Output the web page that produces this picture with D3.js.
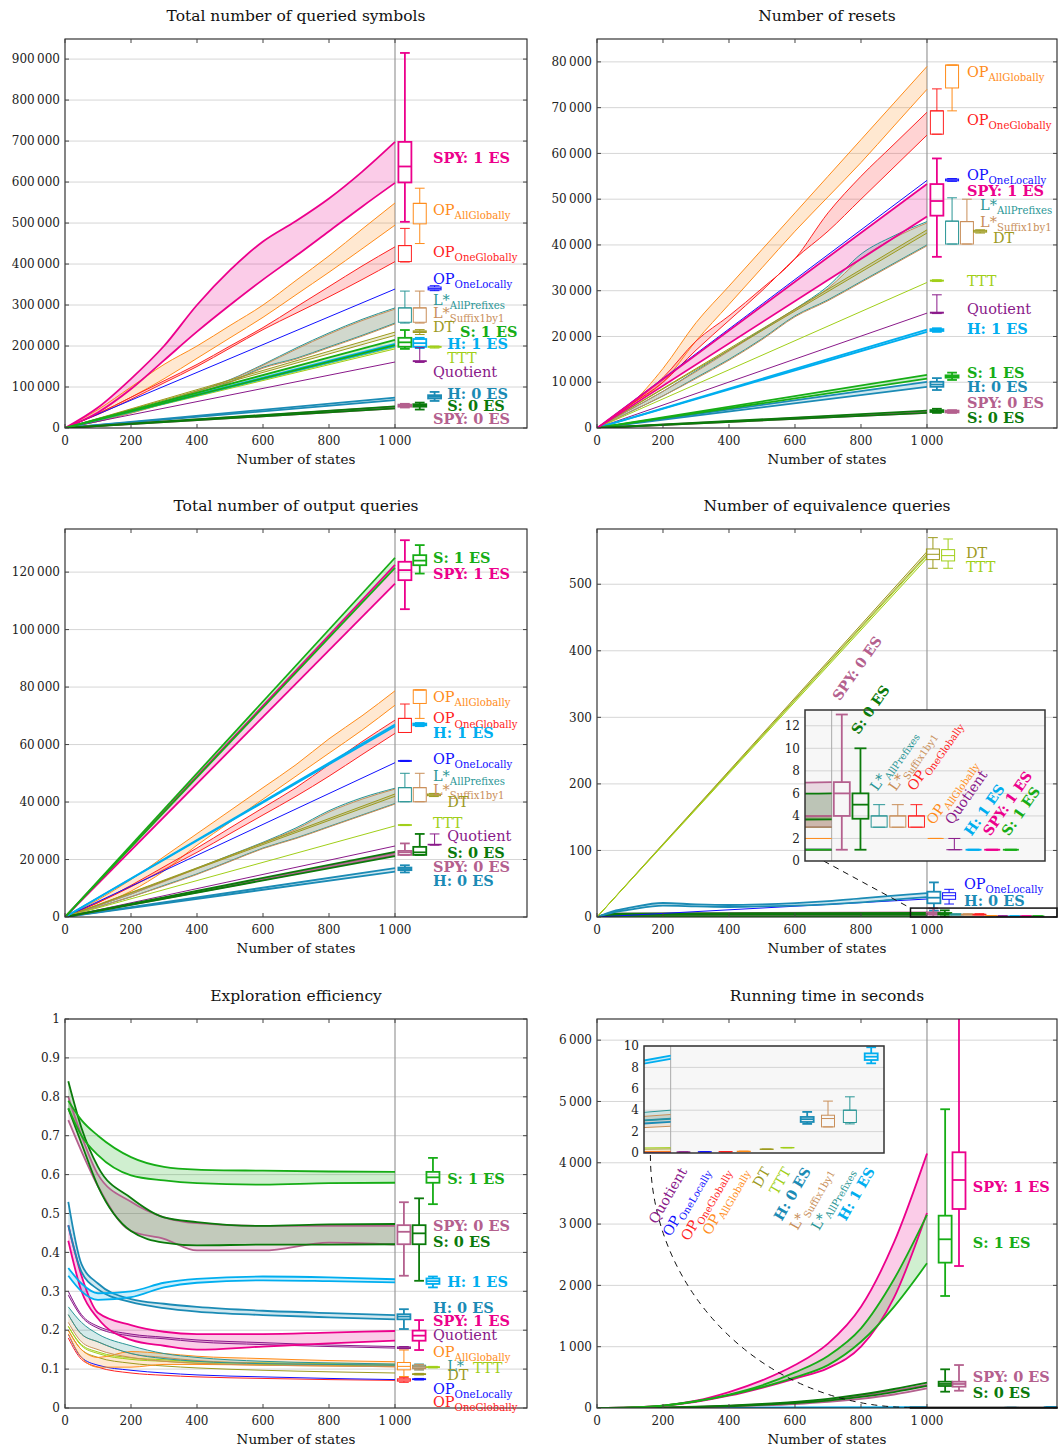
<!DOCTYPE html>
<html>
<head>
<meta charset="utf-8">
<script src="https://cdn.jsdelivr.net/npm/d3@7"></script>
<style>
  body { margin: 0; background: #fff; }
  svg text { font-family: 'DejaVu Serif', serif; }
</style>
</head>
<body>
<svg id="chart" width="1059" height="1450"></svg>
<script>
'use strict'

// ---- x grids (number of states) ----
const gridFull = [0, 100, 200, 300, 400, 500, 600, 700, 800, 900, 1000];
const gridEnds = [0, 1000];
const gridFlat = [0, 50, 1000];
const gridEq = [0, 50, 100, 200, 300, 400, 500, 600, 700, 800, 900, 1000];
const gridEff = [10, 50, 100, 200, 300, 400, 600, 800, 1000];

const xTicks = [0, 200, 400, 600, 800, 1000];

// ---- Total number of queried symbols ----
const symbolsTicks = [0, 100e3, 200e3, 300e3, 400e3, 500e3, 600e3, 700e3, 800e3, 900e3];
const symbolsBands = [
  ['opAll', gridFull, [0, 35e3, 75e3, 120e3, 170e3, 220e3, 270e3, 325e3, 380e3, 437e3, 495e3], [0, 45e3, 100e3, 155e3, 200e3, 250e3, 300e3, 360e3, 420e3, 485e3, 549e3]],
  ['opOneG', gridFull, [0, 33e3, 70e3, 110e3, 150e3, 195e3, 240e3, 280e3, 320e3, 362e3, 406e3], [0, 35e3, 75e3, 115e3, 155e3, 200e3, 245e3, 295e3, 345e3, 395e3, 442e3]],
  ['opOneL', gridEnds, [0, 339e3], [0, 339e3]],
  ['lAP', gridFull, [0, 16e3, 37e3, 60e3, 85e3, 112e3, 148e3, 170e3, 198e3, 226e3, 256e3], [0, 18e3, 40e3, 65e3, 90e3, 118e3, 155e3, 195e3, 232e3, 265e3, 293e3]],
  ['lS', gridFull, [0, 16e3, 36e3, 59e3, 84e3, 111e3, 146e3, 168e3, 196e3, 224e3, 254e3], [0, 18e3, 40e3, 64e3, 89e3, 117e3, 153e3, 192e3, 229e3, 262e3, 290e3]],
  ['dt', gridEnds, [0, 226e3], [0, 234e3]],
  ['ttt', gridEnds, [0, 193e3], [0, 197e3]],
  ['quot', gridEnds, [0, 161e3], [0, 161e3]],
  ['h0', gridEnds, [0, 68e3], [0, 74e3]],
  ['h1', gridEnds, [0, 200e3], [0, 205e3]],
  ['spy0', gridEnds, [0, 48e3], [0, 52e3]],
  ['s0', gridEnds, [0, 48e3], [0, 53e3]],
  ['spy1', gridFull, [0, 38e3, 95e3, 165e3, 235e3, 300e3, 362e3, 420e3, 480e3, 540e3, 598e3], [0, 50e3, 120e3, 200e3, 300e3, 385e3, 455e3, 505e3, 560e3, 625e3, 698e3]],
  ['s1', gridEnds, [0, 202e3], [0, 215e3]]
];
const symbolsBoxes = [
  ['spy1', 503e3, 599e3, 638e3, 698e3, 915e3],
  ['opAll', 450e3, 498e3, 548e3, 548e3, 585e3],
  ['opOneG', 405e3, 406e3, 445e3, 445e3, 487e3],
  ['opOneL', 335e3, 337e3, 340e3, 344e3, 347e3],
  ['lAP', 256e3, 258e3, 293e3, 293e3, 334e3],
  ['lS', 256e3, 258e3, 293e3, 293e3, 334e3],
  ['dt', 228e3, 233e3, 235e3, 237e3, 240e3],
  ['s1', 193e3, 198e3, 209e3, 220e3, 239e3],
  ['h1', 195e3, 198e3, 207e3, 217e3, 220e3],
  ['quot', 160e3, 162e3, 163e3, 164e3, 196e3],
  ['ttt', 195e3, 197e3, 198e3, 199e3, 200e3],
  ['h0', 66e3, 72e3, 76e3, 80e3, 88e3],
  ['s0', 45e3, 52e3, 55e3, 58e3, 62e3],
  ['spy0', 50e3, 52e3, 55e3, 57e3, 59e3]
];
// key, box slot, label x, label y (data units)
const symbolsLayout = [
  ['spy1', 1030, 1115, 659e3], ['opAll', 1075, 1115, 532e3], ['opOneG', 1030, 1115, 430e3],
  ['opOneL', 1120, 1115, 363e3], ['lAP', 1030, 1115, 312e3], ['lS', 1075, 1115, 281e3],
  ['dt', 1075, 1115, 246e3], ['s1', 1030, 1197, 235e3], ['h1', 1075, 1158, 205e3],
  ['ttt', 1120, 1158, 171e3], ['quot', 1075, 1115, 137e3], ['h0', 1120, 1158, 83e3],
  ['s0', 1075, 1158, 54e3], ['spy0', 1030, 1115, 22e3]
];

// ---- Number of resets ----
const resetsTicks = [0, 10e3, 20e3, 30e3, 40e3, 50e3, 60e3, 70e3, 80e3];
const resetsBands = [
  ['opAll', gridFull, [0, 5e3, 10e3, 19e3, 27e3, 35e3, 43e3, 50.5e3, 58e3, 66e3, 74e3], [0, 5e3, 13e3, 23e3, 31e3, 39e3, 47e3, 55e3, 63e3, 71e3, 79e3]],
  ['opOneG', gridFull, [0, 5e3, 10e3, 17e3, 23.5e3, 30e3, 37e3, 43e3, 50e3, 57e3, 64e3], [0, 5e3, 11e3, 19e3, 24.5e3, 30.5e3, 37e3, 47e3, 55e3, 62e3, 69e3]],
  ['opOneL', gridEnds, [0, 54.1e3], [0, 54.1e3]],
  ['lAP', gridFull, [0, 3.5e3, 7e3, 11e3, 15e3, 19.5e3, 24.5e3, 28e3, 32e3, 36e3, 40e3], [0, 4e3, 8e3, 12.5e3, 17e3, 21.5e3, 26e3, 31e3, 38e3, 42e3, 45.1e3]],
  ['lS', gridFull, [0, 3.5e3, 7e3, 10.8e3, 14.8e3, 19.3e3, 24.3e3, 27.8e3, 31.8e3, 35.8e3, 39.8e3], [0, 4e3, 8e3, 12.3e3, 16.8e3, 21.3e3, 25.8e3, 30.5e3, 37e3, 41.5e3, 44.8e3]],
  ['dt', gridEnds, [0, 42.6e3], [0, 43.3e3]],
  ['ttt', gridEnds, [0, 31.8e3], [0, 31.8e3]],
  ['quot', gridEnds, [0, 25.1e3], [0, 25.1e3]],
  ['h1', gridEnds, [0, 21e3], [0, 21.5e3]],
  ['h0', gridEnds, [0, 9.0e3], [0, 10.1e3]],
  ['s1', gridEnds, [0, 10.8e3], [0, 11.6e3]],
  ['spy0', gridEnds, [0, 3.3e3], [0, 3.6e3]],
  ['s0', gridEnds, [0, 3.3e3], [0, 3.8e3]],
  ['spy1', gridEnds, [0, 46.2e3], [0, 53.3e3]]
];
const resetsBoxes = [
  ['opAll', 69.3e3, 74.3e3, 79.3e3, 79.3e3, 79.3e3],
  ['opOneG', 64.2e3, 64.2e3, 69.3e3, 69.3e3, 74.1e3],
  ['spy1', 37.4e3, 46.4e3, 49.6e3, 53.3e3, 58.9e3],
  ['opOneL', 53.9e3, 54.0e3, 54.2e3, 54.4e3, 54.5e3],
  ['lAP', 40.2e3, 40.2e3, 45.2e3, 45.2e3, 50.3e3],
  ['lS', 40.2e3, 40.2e3, 45.1e3, 45.1e3, 50e3],
  ['dt', 42.6e3, 42.8e3, 43.0e3, 43.2e3, 43.3e3],
  ['ttt', 32.0e3, 32.1e3, 32.2e3, 32.3e3, 32.4e3],
  ['quot', 25.0e3, 25.1e3, 25.2e3, 25.3e3, 29.1e3],
  ['h1', 21.0e3, 21.2e3, 21.4e3, 21.6e3, 21.8e3],
  ['s1', 10.5e3, 11.0e3, 11.2e3, 11.5e3, 12.1e3],
  ['h0', 8.3e3, 9.0e3, 9.5e3, 10.1e3, 10.9e3],
  ['s0', 3.3e3, 3.5e3, 3.7e3, 3.9e3, 4.2e3],
  ['spy0', 3.3e3, 3.4e3, 3.6e3, 3.8e3, 3.9e3]
];
const resetsLayout = [
  ['opAll', 1076, 1121, 77.9e3], ['opOneG', 1030, 1121, 67.3e3], ['spy1', 1030, 1121, 51.9e3],
  ['opOneL', 1076, 1121, 55.3e3], ['lAP', 1076, 1161, 48.7e3], ['lS', 1121, 1161, 45.1e3],
  ['dt', 1161, 1200, 41.5e3], ['ttt', 1030, 1121, 32.2e3], ['quot', 1030, 1121, 26e3],
  ['h1', 1030, 1121, 21.6e3], ['s1', 1076, 1121, 12.1e3], ['h0', 1030, 1121, 9.0e3],
  ['spy0', 1076, 1121, 5.4e3], ['s0', 1030, 1121, 2.1e3]
];

// ---- Total number of output queries ----
const outputTicks = [0, 20e3, 40e3, 60e3, 80e3, 100e3, 120e3];
const outputBands = [
  ['opAll', gridFull, [0, 4e3, 9e3, 16e3, 25e3, 33e3, 41e3, 49e3, 57e3, 65e3, 73.7e3], [0, 6e3, 13e3, 21e3, 29e3, 37e3, 45e3, 53e3, 62e3, 70e3, 78.7e3]],
  ['opOneG', gridFull, [0, 5e3, 10.5e3, 16.5e3, 22.5e3, 29e3, 35.5e3, 42e3, 49e3, 56.5e3, 63.9e3], [0, 5e3, 11e3, 17.5e3, 24e3, 31e3, 38e3, 45e3, 53e3, 61e3, 68.5e3]],
  ['opOneL', gridEnds, [0, 53.7e3], [0, 53.7e3]],
  ['lAP', gridFull, [0, 3.5e3, 7e3, 11e3, 15e3, 19.5e3, 24e3, 27.5e3, 31.5e3, 35.5e3, 39.5e3], [0, 4e3, 8e3, 12.5e3, 17e3, 21.5e3, 26e3, 31e3, 37e3, 41.5e3, 44.8e3]],
  ['lS', gridFull, [0, 3.5e3, 7e3, 10.8e3, 14.8e3, 19.3e3, 23.8e3, 27.3e3, 31.3e3, 35.3e3, 39.3e3], [0, 4e3, 8e3, 12.3e3, 16.8e3, 21.3e3, 25.8e3, 30.5e3, 36.5e3, 41e3, 44.5e3]],
  ['dt', gridEnds, [0, 42e3], [0, 42.8e3]],
  ['ttt', gridEnds, [0, 31.7e3], [0, 31.7e3]],
  ['quot', gridEnds, [0, 24.7e3], [0, 24.7e3]],
  ['h0', gridEnds, [0, 15.8e3], [0, 17e3]],
  ['spy0', gridEnds, [0, 21.5e3], [0, 22.2e3]],
  ['s0', gridEnds, [0, 21.2e3], [0, 22.7e3]],
  ['h1', gridEnds, [0, 66.4e3], [0, 67e3]],
  ['spy1', gridEnds, [0, 116e3], [0, 122.5e3]],
  ['s1', gridEnds, [0, 121.5e3], [0, 125e3]]
];
const outputBoxes = [
  ['spy1', 107.1e3, 117.2e3, 120.7e3, 123.6e3, 131.1e3],
  ['s1', 119.5e3, 122.4e3, 124e3, 125.9e3, 129.4e3],
  ['opAll', 69.1e3, 74.3e3, 79e3, 79e3, 79e3],
  ['opOneG', 64.2e3, 64.2e3, 69.1e3, 69.1e3, 74.1e3],
  ['h1', 66.4e3, 66.7e3, 67e3, 67.3e3, 67.5e3],
  ['opOneL', 54.1e3, 54.2e3, 54.3e3, 54.4e3, 54.5e3],
  ['lAP', 40.1e3, 40.1e3, 45e3, 45e3, 50e3],
  ['lS', 40.1e3, 40.1e3, 45e3, 45e3, 50e3],
  ['dt', 41.9e3, 42.2e3, 42.5e3, 42.8e3, 43e3],
  ['ttt', 31.8e3, 31.9e3, 32e3, 32.1e3, 32.2e3],
  ['quot', 25e3, 25.1e3, 25.2e3, 25.3e3, 28.9e3],
  ['spy0', 21.6e3, 21.6e3, 22.5e3, 23e3, 25.6e3],
  ['s0', 21.6e3, 21.6e3, 22.5e3, 24.4e3, 28.9e3],
  ['h0', 15.5e3, 16.3e3, 16.7e3, 17.2e3, 18e3]
];
const outputLayout = [
  ['s1', 1075, 1115, 124.8e3], ['spy1', 1030, 1115, 119.5e3], ['opAll', 1075, 1115, 76.6e3],
  ['opOneG', 1030, 1115, 69.1e3], ['h1', 1075, 1115, 63.9e3], ['opOneL', 1030, 1115, 54.9e3],
  ['lAP', 1030, 1115, 49e3], ['lS', 1075, 1115, 44.2e3], ['dt', 1118, 1158, 40.1e3],
  ['ttt', 1030, 1115, 32.6e3], ['quot', 1120, 1158, 28.2e3], ['s0', 1075, 1158, 22.4e3],
  ['spy0', 1030, 1115, 17.5e3], ['h0', 1030, 1115, 12.6e3]
];

// ---- Number of equivalence queries ----
const eqTicks = [0, 100, 200, 300, 400, 500];
const eqInsetTicks = [0, 2, 4, 6, 8, 10, 12];
const eqBands = [
  ['opAll', gridFlat, [0, 2, 2], [0, 2, 2]],
  ['opOneG', gridFlat, [0, 3, 3], [0, 4, 4]],
  ['lAP', gridFlat, [0, 3, 3], [0, 4, 4]],
  ['lS', gridFlat, [0, 3, 3], [0, 4, 4]],
  ['quot', gridFlat, [0, 1, 1], [0, 1, 1]],
  ['h1', gridFlat, [0, 1, 1], [0, 1, 1]],
  ['spy1', gridFlat, [0, 1, 1], [0, 1, 1]],
  ['s1', gridFlat, [0, 1, 1], [0, 1, 1]],
  ['spy0', gridFlat, [0, 3, 4], [0, 5, 7]],
  ['s0', gridFlat, [0, 3, 3.7], [0, 5, 6]],
  ['opOneL', gridEnds, [0, 27], [0, 27]],
  ['h0', gridEq, [0, 7, 11, 17, 16, 15, 16, 17, 19, 22, 26, 30], [0, 9, 14, 21, 19, 18, 19, 21, 24, 28, 32, 36]],
  ['dt', gridEnds, [0, 545], [0, 549]],
  ['ttt', gridEnds, [0, 539], [0, 543]]
];
const eqBoxes = [
  ['h0', 9.5, 20.6, 29, 38, 52],
  ['opOneL', 19.5, 26.6, 32, 36.5, 41.6],
  ['dt', 524, 537, 545, 553, 570],
  ['ttt', 524, 535, 543, 552, 568],
  ['spy0', 1, 4, 6, 7, 13],
  ['s0', 1, 3.75, 5, 6, 10],
  ['lAP', 3, 3, 4, 4, 5],
  ['lS', 3, 3, 4, 4, 5],
  ['opOneG', 3, 3, 4, 4, 5],
  ['opAll', 2, 2, 2, 2, 2],
  ['quot', 1, 1, 1, 1, 2],
  ['h1', 1, 1, 1, 1, 1],
  ['spy1', 1, 1, 1, 1, 1],
  ['s1', 1, 1, 1, 1, 1]
];
const eqLayout = [
  ['h0', 1021, 1112, 24], ['opOneL', 1067, 1112, 49.5],
  ['dt', 1018, 1118, 546.5], ['ttt', 1064, 1118, 525.5]
];
const eqInsetSlots = [
  ['spy0', 1019], ['s0', 1054], ['lAP', 1089], ['lS', 1124], ['opOneG', 1159],
  ['opAll', 1195], ['quot', 1230], ['h1', 1266], ['spy1', 1301], ['s1', 1336]
];

// ---- Exploration efficiency ----
const effTicks = [0, 0.1, 0.2, 0.3, 0.4, 0.5, 0.6, 0.7, 0.8, 0.9, 1];
const effBands = [
  ['opOneG', gridEff, [0.18, 0.125, 0.105, 0.09, 0.084, 0.08, 0.076, 0.073, 0.071], [0.18, 0.125, 0.105, 0.09, 0.084, 0.08, 0.076, 0.073, 0.071]],
  ['opOneL', gridEff, [0.19, 0.13, 0.11, 0.097, 0.09, 0.085, 0.08, 0.076, 0.073], [0.19, 0.13, 0.11, 0.097, 0.09, 0.085, 0.08, 0.076, 0.073]],
  ['dt', gridEff, [0.2, 0.15, 0.13, 0.115, 0.108, 0.103, 0.097, 0.093, 0.09], [0.2, 0.15, 0.13, 0.115, 0.108, 0.103, 0.097, 0.093, 0.09]],
  ['ttt', gridEff, [0.21, 0.16, 0.14, 0.125, 0.12, 0.115, 0.112, 0.11, 0.108], [0.21, 0.163, 0.144, 0.129, 0.124, 0.119, 0.116, 0.114, 0.112]],
  ['opAll', gridEff, [0.19, 0.13, 0.105, 0.105, 0.112, 0.112, 0.11, 0.108, 0.106], [0.2, 0.15, 0.13, 0.145, 0.14, 0.133, 0.127, 0.122, 0.119]],
  ['lS', gridEff, [0.22, 0.17, 0.15, 0.13, 0.12, 0.115, 0.11, 0.108, 0.106], [0.24, 0.19, 0.17, 0.14, 0.13, 0.122, 0.115, 0.112, 0.11]],
  ['lAP', gridEff, [0.24, 0.19, 0.17, 0.14, 0.127, 0.12, 0.114, 0.112, 0.11], [0.26, 0.22, 0.19, 0.16, 0.14, 0.13, 0.12, 0.116, 0.113]],
  ['quot', gridEff, [0.29, 0.235, 0.205, 0.185, 0.178, 0.17, 0.163, 0.158, 0.154], [0.3, 0.24, 0.21, 0.19, 0.182, 0.175, 0.168, 0.162, 0.158]],
  ['spy1', gridEff, [0.43, 0.3, 0.23, 0.175, 0.16, 0.15, 0.158, 0.166, 0.173], [0.47, 0.34, 0.245, 0.213, 0.196, 0.19, 0.19, 0.194, 0.198]],
  ['h0', gridEff, [0.47, 0.35, 0.305, 0.272, 0.257, 0.248, 0.239, 0.233, 0.228], [0.53, 0.37, 0.32, 0.28, 0.268, 0.26, 0.25, 0.244, 0.239]],
  ['h1', gridEff, [0.34, 0.3, 0.278, 0.285, 0.31, 0.322, 0.328, 0.326, 0.323], [0.36, 0.32, 0.295, 0.3, 0.322, 0.332, 0.338, 0.336, 0.331]],
  ['spy0', gridEff, [0.74, 0.66, 0.57, 0.455, 0.435, 0.405, 0.405, 0.425, 0.42], [0.8, 0.7, 0.6, 0.53, 0.49, 0.475, 0.468, 0.468, 0.468]],
  ['s0', gridEff, [0.77, 0.68, 0.57, 0.455, 0.425, 0.418, 0.42, 0.42, 0.421], [0.84, 0.72, 0.62, 0.54, 0.49, 0.478, 0.468, 0.472, 0.473]],
  ['s1', gridEff, [0.77, 0.7, 0.65, 0.598, 0.585, 0.578, 0.574, 0.578, 0.579], [0.79, 0.74, 0.7, 0.645, 0.62, 0.613, 0.61, 0.608, 0.607]]
];
const effBoxes = [
  ['s1', 0.524, 0.579, 0.593, 0.607, 0.643],
  ['spy0', 0.34, 0.421, 0.453, 0.47, 0.529],
  ['s0', 0.327, 0.421, 0.449, 0.47, 0.539],
  ['h1', 0.31, 0.319, 0.326, 0.333, 0.338],
  ['h0', 0.203, 0.228, 0.235, 0.241, 0.254],
  ['spy1', 0.149, 0.173, 0.186, 0.199, 0.226],
  ['quot', 0.152, 0.153, 0.155, 0.157, 0.158],
  ['opAll', 0.081, 0.098, 0.107, 0.117, 0.149],
  ['lAP', 0.098, 0.102, 0.106, 0.11, 0.113],
  ['lS', 0.098, 0.101, 0.105, 0.108, 0.112],
  ['ttt', 0.103, 0.104, 0.105, 0.106, 0.107],
  ['dt', 0.085, 0.086, 0.087, 0.088, 0.089],
  ['opOneL', 0.072, 0.073, 0.074, 0.075, 0.076],
  ['opOneG', 0.066, 0.069, 0.072, 0.075, 0.078]
];
const effLayout = [
  ['s1', 1115, 1158, 0.59], ['spy0', 1027, 1115, 0.468], ['s0', 1073, 1115, 0.428],
  ['h1', 1115, 1158, 0.325], ['h0', 1027, 1115, 0.256], ['spy1', 1073, 1115, 0.224],
  ['quot', 1027, 1115, 0.188], ['opAll', 1027, 1115, 0.145], ['lAP', 1073, 1158, 0.108, 'lStar'],
  ['lS', 1073, null, null], ['ttt', 1115, 1236, 0.102], ['dt', 1073, 1158, 0.085],
  ['opOneL', 1073, 1115, 0.049], ['opOneG', 1027, 1115, 0.016]
];

// ---- Running time in seconds ----
const timeTicks = [0, 1000, 2000, 3000, 4000, 5000, 6000];
const timeInsetTicks = [0, 2, 4, 6, 8, 10];
const timeBands = [
  ['quot', gridEnds, [0, 0.08], [0, 0.08]],
  ['opOneL', gridEnds, [0, 0.1], [0, 0.1]],
  ['opOneG', gridEnds, [0, 0.12], [0, 0.12]],
  ['opAll', gridEnds, [0, 0.16], [0, 0.16]],
  ['dt', gridEnds, [0, 0.38], [0, 0.38]],
  ['ttt', gridEnds, [0, 0.5], [0, 0.5]],
  ['h0', gridEnds, [0, 2.9], [0, 3.2]],
  ['lS', gridEnds, [0, 2.5], [0, 3.6]],
  ['lAP', gridEnds, [0, 3.2], [0, 4.0]],
  ['h1', gridEnds, [0, 8.8], [0, 9.1]],
  ['spy0', gridFull, [0, 1, 5, 12, 25, 42, 65, 100, 150, 220, 320], [0, 2, 7, 18, 35, 58, 90, 135, 200, 285, 375]],
  ['s0', gridFull, [0, 2, 6, 15, 30, 50, 80, 120, 180, 260, 360], [0, 2, 8, 20, 40, 65, 100, 150, 220, 310, 413]],
  ['spy1', gridFull, [0, 10, 35, 100, 200, 330, 480, 650, 1000, 1800, 3180], [0, 10, 40, 120, 260, 450, 700, 1050, 1650, 2700, 4150]],
  ['s1', gridFull, [0, 10, 40, 110, 210, 340, 500, 700, 1080, 1650, 2360], [0, 10, 40, 110, 220, 370, 580, 850, 1300, 2100, 3150]]
];
const timeBoxes = [
  ['s1', 1827, 2371, 2752, 3137, 4873],
  ['spy1', 2316, 3246, 3719, 4171, 6400],
  ['s0', 266, 359, 392, 429, 631],
  ['spy0', 282, 348, 392, 429, 701],
  ['quot', 0.06, 0.07, 0.08, 0.09, 0.1],
  ['opOneL', 0.08, 0.09, 0.1, 0.11, 0.12],
  ['opOneG', 0.1, 0.11, 0.12, 0.13, 0.14],
  ['opAll', 0.13, 0.14, 0.15, 0.16, 0.17],
  ['dt', 0.33, 0.34, 0.35, 0.36, 0.37],
  ['ttt', 0.48, 0.49, 0.5, 0.51, 0.52],
  ['h0', 2.72, 2.9, 3.16, 3.37, 3.84],
  ['lS', 2.44, 2.44, 3.22, 3.53, 4.85],
  ['lAP', 2.72, 2.85, 4.0, 4.0, 5.25],
  ['h1', 8.38, 8.69, 9.0, 9.31, 9.88]
];
const timeLayout = [
  ['s1', 1055, 1139, 2697], ['spy1', 1097, 1139, 3600],
  ['s0', 1055, 1139, 239], ['spy0', 1097, 1139, 511]
];
const timeInsetSlots = [
  ['quot', 1024], ['opOneL', 1064], ['opOneG', 1103], ['opAll', 1137], ['dt', 1180],
  ['ttt', 1219], ['h0', 1256], ['lS', 1295], ['lAP', 1336], ['h1', 1376]
];

// ---- series styles ----
const colors = {
  spy1: '#ec008c', spy0: '#b4608e', s1: '#16ad16', s0: '#0b7a0b', h1: '#00aeef', h0: '#1b8bb5',
  opAll: '#ff8c1a', opOneG: '#ff2222', opOneL: '#1010ff', lAP: '#2a9696', lS: '#c98f5a',
  dt: '#9d9a1e', ttt: '#a1cf19', quot: '#8a1a8a', lStar: '#2a9696'
};
const thickKeys = ['spy1', 'spy0', 's1', 's0', 'h1', 'h0'];
const labelSpec = {
  spy1: ['SPY: 1 ES', null, true], spy0: ['SPY: 0 ES', null, true],
  s1: ['S: 1 ES', null, true], s0: ['S: 0 ES', null, true],
  h1: ['H: 1 ES', null, true], h0: ['H: 0 ES', null, true],
  opAll: ['OP', 'AllGlobally', false], opOneG: ['OP', 'OneGlobally', false],
  opOneL: ['OP', 'OneLocally', false], lAP: ['L*', 'AllPrefixes', false],
  lS: ['L*', 'Suffix1by1', false], dt: ['DT', null, false], ttt: ['TTT', null, false],
  quot: ['Quotient', null, false], lStar: ['L*', null, false]
};

const fmt = d3.formatLocale({decimal: '.', thousands: '\u2009', grouping: [3], currency: ['', '']}).format(',~g');

const panels = [
  {title: 'Total number of queried symbols', left: 65, top: 39, width: 462, height: 389, xMax: 1400, yMax: 949000,
    ticks: symbolsTicks, bands: symbolsBands, boxes: symbolsBoxes, layout: symbolsLayout},
  {title: 'Number of resets', left: 597, top: 39, width: 460, height: 389, xMax: 1394, yMax: 85000,
    ticks: resetsTicks, bands: resetsBands, boxes: resetsBoxes, layout: resetsLayout},
  {title: 'Total number of output queries', left: 65, top: 529, width: 462, height: 388, xMax: 1400, yMax: 135000,
    ticks: outputTicks, bands: outputBands, boxes: outputBoxes, layout: outputLayout},
  {title: 'Number of equivalence queries', left: 597, top: 529, width: 460, height: 388, xMax: 1394, yMax: 583,
    ticks: eqTicks, bands: eqBands, boxes: eqBoxes, layout: eqLayout,
    inset: {left: 805, top: 710, width: 240, height: 151, xMin: 950, xMax: 1400, yMax: 13.4,
      ticks: eqInsetTicks, slots: eqInsetSlots, half: 8, labels: 'above', link: 'line'}},
  {title: 'Exploration efficiency', left: 65, top: 1019, width: 462, height: 389, xMax: 1400, yMax: 1,
    ticks: effTicks, bands: effBands, boxes: effBoxes, layout: effLayout},
  {title: 'Running time in seconds', left: 597, top: 1019, width: 460, height: 389, xMax: 1394, yMax: 6345,
    ticks: timeTicks, bands: timeBands, boxes: timeBoxes, layout: timeLayout,
    inset: {left: 644, top: 1046, width: 240, height: 107, xMin: 950, xMax: 1400, yMax: 10,
      ticks: timeInsetTicks, slots: timeInsetSlots, half: 6.5, labels: 'below', link: 'arc'}}
];

const svg = d3.select('#chart');
const defs = svg.append('defs');
let clipCount = 0;

function clipRect(x, y, w, h) {
  const id = 'clip' + (clipCount++);
  defs.append('clipPath').attr('id', id).append('rect')
    .attr('x', x).attr('y', y).attr('width', w).attr('height', h);
  return `url(#${id})`;
}

function drawBands(g, bands, x, y) {
  const rows = bands.map(([key, xs, lo, hi]) => ({
    key, pts: xs.map((s, i) => ({s, lo: lo[i], hi: hi[i]})),
    flat: lo.every((v, i) => v === hi[i])
  }));
  const area = d3.area().curve(d3.curveMonotoneX)
    .x(d => x(d.s)).y0(d => y(d.lo)).y1(d => y(d.hi));
  const line = acc => d3.line().curve(d3.curveMonotoneX).x(d => x(d.s)).y(d => y(d[acc]));

  g.append('g').selectAll('path')
    .data(rows.filter(r => !r.flat))
    .join('path')
      .attr('d', r => area(r.pts))
      .attr('fill', r => colors[r.key])
      .attr('fill-opacity', 0.2);

  rows.forEach(r => {
    const w = thickKeys.includes(r.key) ? 1.8 : 1;
    (r.flat ? ['lo'] : ['lo', 'hi']).forEach(acc => {
      g.append('path')
        .attr('d', line(acc)(r.pts))
        .attr('fill', 'none')
        .attr('stroke', colors[r.key])
        .attr('stroke-width', w);
    });
  });
}

function drawBoxes(g, boxes, slotOf, x, y, half) {
  boxes.forEach(([key, mn, q1, med, q3, mx]) => {
    const s = slotOf[key];
    if (s === undefined) return;
    const cx = x(s), c = colors[key];
    const w = thickKeys.includes(key) ? 1.8 : 1;
    const cap = half * 0.75;
    const b = g.append('g').attr('stroke', c).attr('stroke-width', w).attr('fill', 'none');
    b.append('line').attr('x1', cx).attr('x2', cx).attr('y1', y(mx)).attr('y2', y(q3));
    b.append('line').attr('x1', cx).attr('x2', cx).attr('y1', y(q1)).attr('y2', y(mn));
    b.append('line').attr('x1', cx - cap).attr('x2', cx + cap).attr('y1', y(mx)).attr('y2', y(mx));
    b.append('line').attr('x1', cx - cap).attr('x2', cx + cap).attr('y1', y(mn)).attr('y2', y(mn));
    b.append('rect').attr('x', cx - half).attr('width', 2 * half)
      .attr('y', y(q3)).attr('height', Math.max(0, y(q1) - y(q3)));
    b.append('line').attr('x1', cx - half).attr('x2', cx + half).attr('y1', y(med)).attr('y2', y(med));
  });
}

function addLabel(g, key, textKey, size) {
  const [main, sub, bold] = labelSpec[textKey || key];
  const t = g.append('text')
    .attr('fill', colors[textKey || key])
    .attr('font-size', size)
    .attr('font-weight', bold ? 'bold' : 'normal');
  t.append('tspan').text(main);
  if (sub) t.append('tspan').attr('font-size', size * 0.7).attr('dy', size * 0.28).text(sub);
  return t;
}

function drawInset(p, x, y) {
  const ins = p.inset;
  const ix = d3.scaleLinear().domain([ins.xMin, ins.xMax]).range([ins.left, ins.left + ins.width]);
  const iy = d3.scaleLinear().domain([0, ins.yMax]).range([ins.top + ins.height, ins.top]);
  const g = svg.append('g');

  // marker rectangle in the main plot
  const rx0 = x(ins.xMin), rx1 = Math.min(x(ins.xMax), p.left + p.width);
  g.append('rect')
    .attr('x', rx0).attr('y', y(ins.yMax))
    .attr('width', rx1 - rx0).attr('height', y(0) - y(ins.yMax))
    .attr('fill', 'none').attr('stroke', '#111').attr('stroke-width', 1.5);

  // dashed connector
  if (ins.link === 'line') {
    g.append('line')
      .attr('x1', ix(985)).attr('y1', iy(0)).attr('x2', rx0).attr('y2', y(ins.yMax))
      .attr('stroke', '#111').attr('stroke-dasharray', '6,5');
  } else {
    const sx = ix(962), sy = iy(0) + 2, ex = rx0, ey = y(ins.yMax);
    g.append('path')
      .attr('d', `M${sx},${sy} A${ex - sx},${ey - sy} 0 0 0 ${ex},${ey}`)
      .attr('fill', 'none').attr('stroke', '#111').attr('stroke-dasharray', '6,5');
  }

  g.append('rect')
    .attr('x', ins.left).attr('y', ins.top).attr('width', ins.width).attr('height', ins.height)
    .attr('fill', '#f7f7f7');
  g.selectAll('line.igrid')
    .data(ins.ticks.filter(t => t > 0))
    .join('line')
      .attr('x1', ins.left).attr('x2', ins.left + ins.width)
      .attr('y1', d => iy(d)).attr('y2', d => iy(d))
      .attr('stroke', '#d4d4d4');

  const c = g.append('g').attr('clip-path', clipRect(ins.left, ins.top, ins.width, ins.height));
  c.append('line').attr('x1', ix(1000)).attr('x2', ix(1000))
    .attr('y1', ins.top).attr('y2', ins.top + ins.height).attr('stroke', '#aaa');
  drawBands(c, p.bands, ix, iy);
  drawBoxes(c, p.boxes, Object.fromEntries(ins.slots), ix, iy, ins.half);

  g.append('rect')
    .attr('x', ins.left).attr('y', ins.top).attr('width', ins.width).attr('height', ins.height)
    .attr('fill', 'none').attr('stroke', '#333').attr('stroke-width', 1.5);
  ins.ticks.forEach(t => {
    g.append('text').attr('x', ins.left - 5).attr('y', iy(t)).attr('dy', '0.35em')
      .attr('text-anchor', 'end').attr('font-size', 12).attr('fill', '#222').text(fmt(t));
  });

  // rotated labels
  const boxMax = Object.fromEntries(p.boxes.map(b => [b[0], b[5]]));
  ins.slots.forEach(([key, s]) => {
    const t = addLabel(g, key, null, 14);
    if (ins.labels === 'above') {
      t.attr('transform', `translate(${ix(s) - 2},${iy(boxMax[key]) - 13}) rotate(-55)`);
    } else {
      t.attr('text-anchor', 'end')
        .attr('transform', `translate(${ix(s) + 4},${ins.top + ins.height + 18}) rotate(-60)`);
    }
  });
}

function drawPanel(p) {
  const x = d3.scaleLinear().domain([0, p.xMax]).range([p.left, p.left + p.width]);
  const y = d3.scaleLinear().domain([0, p.yMax]).range([p.top + p.height, p.top]);
  const bottom = p.top + p.height, right = p.left + p.width;
  const g = svg.append('g');

  // grid
  g.selectAll('line.grid')
    .data(p.ticks.filter(t => t > 0))
    .join('line')
      .attr('x1', p.left).attr('x2', right)
      .attr('y1', d => y(d)).attr('y2', d => y(d))
      .attr('stroke', '#d6d6d6');
  g.append('line').attr('x1', x(1000)).attr('x2', x(1000))
    .attr('y1', p.top).attr('y2', bottom).attr('stroke', '#999').attr('stroke-width', 1.2);

  // data
  const c = g.append('g').attr('clip-path', clipRect(p.left, p.top, p.width, p.height));
  drawBands(c, p.bands, x, y);
  const slotOf = Object.fromEntries(p.layout.map(d => [d[0], d[1]]));
  if (p.inset) p.inset.slots.forEach(([k, s]) => { slotOf[k] = s; });
  drawBoxes(c, p.boxes, slotOf, x, y, 6.5);

  // frame and ticks
  g.append('rect').attr('x', p.left).attr('y', p.top).attr('width', p.width).attr('height', p.height)
    .attr('fill', 'none').attr('stroke', '#222').attr('stroke-width', 1.1);
  xTicks.forEach(t => {
    g.append('line').attr('x1', x(t)).attr('x2', x(t)).attr('y1', bottom).attr('y2', bottom - 4).attr('stroke', '#444');
    g.append('line').attr('x1', x(t)).attr('x2', x(t)).attr('y1', p.top).attr('y2', p.top + 4).attr('stroke', '#444');
    g.append('text').attr('x', x(t)).attr('y', bottom + 17).attr('text-anchor', 'middle')
      .attr('font-size', 12).attr('fill', '#222').text(fmt(t));
  });
  p.ticks.forEach(t => {
    g.append('line').attr('x1', p.left).attr('x2', p.left + 4).attr('y1', y(t)).attr('y2', y(t)).attr('stroke', '#444');
    g.append('line').attr('x1', right).attr('x2', right - 4).attr('y1', y(t)).attr('y2', y(t)).attr('stroke', '#444');
    g.append('text').attr('x', p.left - 5).attr('y', y(t)).attr('dy', '0.35em').attr('text-anchor', 'end')
      .attr('font-size', 12).attr('fill', '#222').text(fmt(t));
  });

  g.append('text').attr('x', (p.left + right) / 2).attr('y', p.top - 18)
    .attr('text-anchor', 'middle').attr('font-size', 15.5).attr('fill', '#111').text(p.title);
  g.append('text').attr('x', (p.left + right) / 2).attr('y', bottom + 36)
    .attr('text-anchor', 'middle').attr('font-size', 13.5).attr('fill', '#111').text('Number of states');

  // series labels
  p.layout.forEach(([key, slot, lx, ly, textKey]) => {
    if (lx === null) return;
    addLabel(g, key, textKey, 14.5)
      .attr('x', x(lx)).attr('y', y(ly)).attr('dy', '0.35em');
  });

  if (p.inset) drawInset(p, x, y);
}

panels.forEach(drawPanel);
</script>
</body>
</html>
